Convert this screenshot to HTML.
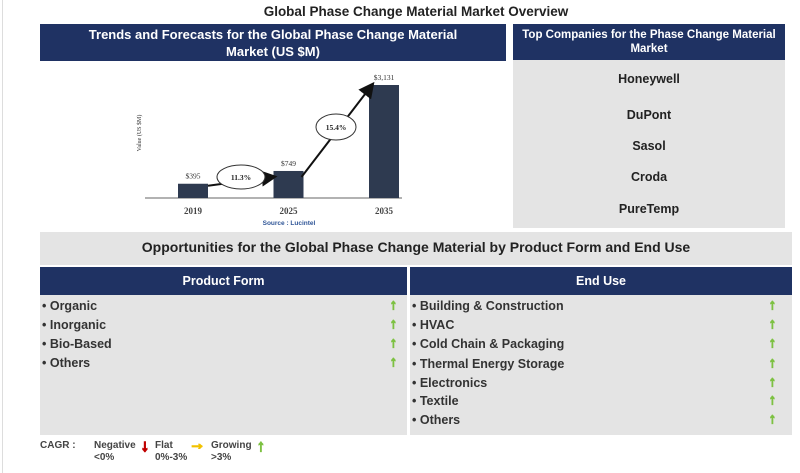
<!DOCTYPE html>
<html><head><meta charset="utf-8"><style>
*{margin:0;padding:0;box-sizing:border-box}
body{width:800px;height:473px;background:#fff;font-family:"Liberation Sans",Arial,sans-serif;position:relative;overflow:hidden;color:#333}
.a{position:absolute}
.navy{background:#1f3263;color:#fff;font-weight:bold;text-align:center}
.gray{background:#e4e4e4}
.it{position:absolute;font-size:12.5px;font-weight:bold;color:#333}
.co{position:absolute;left:513px;width:272px;text-align:center;font-size:12.5px;font-weight:bold;color:#222}
.up{position:absolute;color:#7dc142;font-size:14px;font-weight:bold;-webkit-text-stroke:1.2px #7dc142}
</style></head><body>
<div class="a" style="left:2px;top:0;width:1px;height:473px;background:#ddd"></div>
<div class="a" style="left:40px;top:4px;width:752px;text-align:center;font-size:13.5px;font-weight:bold;color:#222">Global Phase Change Material Market Overview</div>
<div class="a navy" style="left:40px;top:24px;width:466px;height:37px;font-size:13px;line-height:17px;padding-top:2px">Trends and Forecasts for the Global Phase Change Material<br>Market (US $M)</div>
<div class="a navy" style="left:513px;top:24px;width:272px;height:36px;font-size:11.5px;line-height:14px;padding-top:4px">Top Companies for the Phase Change Material<br>Market</div>
<div class="a gray" style="left:513px;top:60px;width:272px;height:168px"></div>
<div class="co" style="top:72px">Honeywell</div>
<div class="co" style="top:108px">DuPont</div>
<div class="co" style="top:139px">Sasol</div>
<div class="co" style="top:170px">Croda</div>
<div class="co" style="top:202px">PureTemp</div>

<svg class="a" style="left:0;top:0" width="800" height="232" id="chart">
<defs><marker id="ah" markerWidth="8" markerHeight="8" refX="6" refY="4" orient="auto"><path d="M0,0 L8,4 L0,8z" fill="#111"/></marker></defs>
</svg>

<div class="a gray" style="left:40px;top:232px;width:752px;height:33px;font-size:14px;font-weight:bold;text-align:center;line-height:31px;color:#222">Opportunities for the Global Phase Change Material by Product Form and End Use</div>
<div class="a navy" style="left:40px;top:267px;width:367px;height:28px;font-size:12.5px;line-height:28px">Product Form</div>
<div class="a navy" style="left:410px;top:267px;width:382px;height:28px;font-size:12.5px;line-height:28px">End Use</div>
<div class="a gray" style="left:40px;top:295px;width:367px;height:140px"></div>
<div class="a gray" style="left:410px;top:295px;width:382px;height:140px"></div>

<div class="it" style="left:42px;top:299px">• Organic</div>
<div class="it" style="left:42px;top:318px">• Inorganic</div>
<div class="it" style="left:42px;top:337px">• Bio-Based</div>
<div class="it" style="left:42px;top:356px">• Others</div>
<div class="up" style="left:390px;top:296px">↑</div>
<div class="up" style="left:390px;top:315px">↑</div>
<div class="up" style="left:390px;top:334px">↑</div>
<div class="up" style="left:390px;top:353px">↑</div>

<div class="it" style="left:412px;top:299px">• Building &amp; Construction</div>
<div class="it" style="left:412px;top:318px">• HVAC</div>
<div class="it" style="left:412px;top:337px">• Cold Chain &amp; Packaging</div>
<div class="it" style="left:412px;top:357px">• Thermal Energy Storage</div>
<div class="it" style="left:412px;top:376px">• Electronics</div>
<div class="it" style="left:412px;top:394px">• Textile</div>
<div class="it" style="left:412px;top:413px">• Others</div>
<div class="up" style="left:769px;top:296px">↑</div>
<div class="up" style="left:769px;top:315px">↑</div>
<div class="up" style="left:769px;top:334px">↑</div>
<div class="up" style="left:769px;top:354px">↑</div>
<div class="up" style="left:769px;top:373px">↑</div>
<div class="up" style="left:769px;top:391px">↑</div>
<div class="up" style="left:769px;top:410px">↑</div>

<div class="a" style="left:40px;top:440px;font-size:10px;font-weight:bold;color:#444">CAGR :</div>
<div class="a" style="left:94px;top:440px;font-size:10px;font-weight:bold;color:#444;line-height:12px">Negative<br>&lt;0%</div>
<div class="a" style="left:141px;top:438px;font-size:16px;font-weight:bold;color:#c00000;-webkit-text-stroke:1.5px #c00000">↓</div>
<div class="a" style="left:155px;top:440px;font-size:10px;font-weight:bold;color:#444;line-height:12px">Flat<br>0%-3%</div>
<div class="a" style="left:189px;top:436px;font-size:16px;font-weight:bold;color:#f2c200;-webkit-text-stroke:1.5px #f2c200">→</div>
<div class="a" style="left:211px;top:440px;font-size:10px;font-weight:bold;color:#444;line-height:12px">Growing<br>&gt;3%</div>
<div class="a" style="left:257px;top:438px;font-size:16px;font-weight:bold;color:#7dc142;-webkit-text-stroke:1.2px #7dc142">↑</div>

<script>
const years=["2019","2025","2035"];
const values=[395,749,3131];
const valueLabels=["$395","$749","$3,131"];
const cagrLabels=["11.3%","15.4%"];
const svg=document.getElementById('chart');
const NS="http://www.w3.org/2000/svg";
const baseY=198, plotH=113, maxV=3131;
const xCenter=i=>193+i*95.5;
const yScale=v=>baseY-v/maxV*plotH;
function mk(t,a){const e=document.createElementNS(NS,t);for(const k in a)e.setAttribute(k,a[k]);svg.appendChild(e);return e;}
const ax=mk('line',{x1:145,x2:402,y1:baseY,y2:baseY,stroke:'#666','stroke-width':1});


const yt=mk('text',{x:0,y:0,'font-size':6,fill:'#333','text-anchor':'middle',transform:'translate(141,133) rotate(-90)','font-family':'Liberation Serif'});
yt.textContent='Value (US $M)';


values.forEach((v,i)=>{
  const x=xCenter(i), y=yScale(v);
  const b=mk('rect',{x:x-15,y:y,width:30,height:baseY-y,fill:'#2e3a50'});
  
  
  const l=mk('text',{x:x,y:y-5,'font-size':7.5,'text-anchor':'middle',fill:'#333','font-family':'Liberation Serif'});
  l.textContent=valueLabels[i];
  
  
  const t=mk('text',{x:x,y:214,'font-size':9,'font-weight':'bold','text-anchor':'middle',fill:'#444','font-family':'Liberation Serif'});
  t.textContent=years[i];
  
  
});
for(let i=0;i<2;i++){
  const x1=xCenter(i)+15,y1=yScale(values[i])+4,x2=xCenter(i+1)-15,y2=yScale(values[i+1])+(i==0?-2:0);
  const ln=mk('line',{x1:i==0?x1:x1-2,y1:i==0?y1-2:y1+2,x2:i==0?x2:x2+3,y2:i==0?y2+8:y2,stroke:'#111','stroke-width':2,'marker-end':'url(#ah)'});
  
  
  const cx=i==0?241:336, cy=i==0?177:127;
  const el=mk('ellipse',{cx:cx,cy:cy,rx:i==0?24:20,ry:i==0?12:13,fill:'#fff',stroke:'#333','stroke-width':1});
  
  
  const ct=mk('text',{x:cx,y:cy+3,'font-size':7.5,'font-weight':'bold','text-anchor':'middle',fill:'#222','font-family':'Liberation Serif'});
  ct.textContent=cagrLabels[i];
  
  
}
const src=mk('text',{x:289,y:225,'font-size':6.5,'text-anchor':'middle',fill:'#2f5597','font-weight':'bold'});
src.textContent='Source : Lucintel';


</script>
</body></html>
